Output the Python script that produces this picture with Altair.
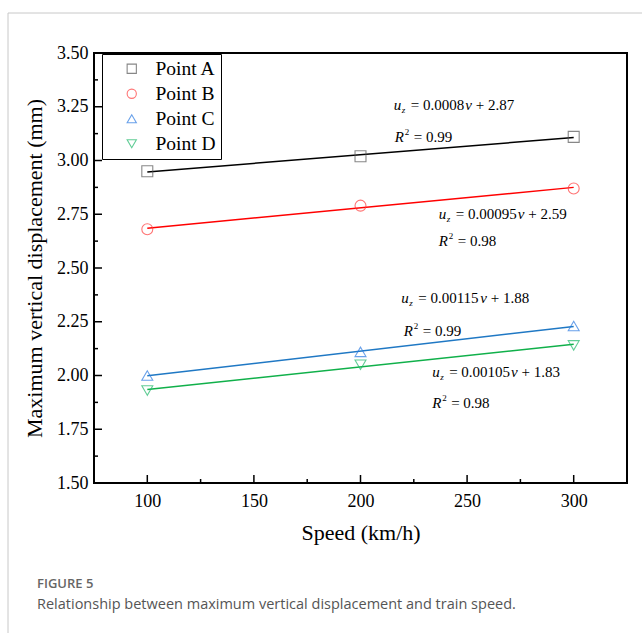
import altair as alt
import pandas as pd

# ---------------- data ----------------
series = ["Point A", "Point B", "Point C", "Point D"]
speed = [100, 200, 300]
disp_A = [2.95, 3.02, 3.11]
disp_B = [2.68, 2.79, 2.87]
disp_C = [2.00, 2.11, 2.23]
disp_D = [1.93, 2.05, 2.14]

marker_colors = ["#555555", "#ff3b3b", "#2a7ae2", "#1fb86a"]
line_colors = ["#000000", "#ff0000", "#1f78c4", "#10b04a"]
shapes = ["square", "circle", "triangle-up", "triangle-down"]

eq_coef = ["0.0008", "0.00095", "0.00115", "0.00105"]
eq_const = ["2.87", "2.59", "1.88", "1.83"]
eq_x = [215.6, 236.7, 219.1, 233.6]
eq_y = [3.258, 2.751, 2.360, 2.014]
r2_val = ["0.99", "0.98", "0.99", "0.98"]
r2_x = [216.1, 236.7, 220.3, 233.6]
r2_y = [3.109, 2.626, 2.209, 1.874]

x_major = [100, 150, 200, 250, 300]
x_minor = [125, 175, 225, 275]
y_major = [1.50, 1.75, 2.00, 2.25, 2.50, 2.75, 3.00, 3.25, 3.50]
y_minor = [1.625, 1.875, 2.125, 2.375, 2.625, 2.875, 3.125, 3.375]

caption_head = "FIGURE 5"
caption_text = "Relationship between maximum vertical displacement and train speed."

W, H = 533, 430
SERIF = "Liberation Serif"

rows = []
for s, vals in zip(series, [disp_A, disp_B, disp_C, disp_D]):
    for v, d in zip(speed, vals):
        rows.append({"series": s, "speed": v, "disp": d})
df = pd.DataFrame(rows)

xscale = alt.Scale(domain=[75, 325], nice=False, zero=False)
yscale = alt.Scale(domain=[1.5, 3.5], nice=False, zero=False)

X = alt.X("speed:Q", scale=xscale,
          axis=alt.Axis(values=x_major, format="d", title="Speed (km/h)"))
Y = alt.Y("disp:Q", scale=yscale,
          axis=alt.Axis(values=y_major, format=".2f",
                        title="Maximum vertical displacement (mm)"))

base = alt.Chart(df)

# fitted lines, one layer per series (fixed colour)
lines = []
for s, col in zip(series, line_colors):
    lines.append(
        base.transform_filter(alt.datum.series == s)
        .transform_regression("speed", "disp", extent=[100, 300])
        .mark_line(strokeWidth=1.5, color=col)
        .encode(x=X, y=Y)
    )

leg = alt.Legend(title=None, orient="none", legendX=8, legendY=1,
                 strokeColor="black", fillColor="white", padding=5,
                 rowPadding=4, symbolOffset=15, labelOffset=14,
                 labelFont=SERIF, labelFontSize=19.5, labelColor="black",
                 symbolSize=85, symbolStrokeWidth=1.1)

points = base.mark_point(filled=False, size=120, strokeWidth=1.1).encode(
    x=X, y=Y,
    color=alt.Color("series:N", scale=alt.Scale(domain=series, range=marker_colors),
                    legend=leg),
    shape=alt.Shape("series:N", scale=alt.Scale(domain=series, range=shapes),
                    legend=leg),
)

# inside ticks
def tick_layer(vals, axis, length):
    d = pd.DataFrame({"v": vals})
    if axis == "x":
        return alt.Chart(d).mark_rule(color="black", strokeWidth=1.5).encode(
            x=alt.X("v:Q", scale=xscale), y=alt.value(H), y2=alt.value(H - length))
    return alt.Chart(d).mark_rule(color="black", strokeWidth=1.5).encode(
        y=alt.Y("v:Q", scale=yscale), x=alt.value(0), x2=alt.value(length))

ticks = [tick_layer(x_major, "x", 8), tick_layer(x_minor, "x", 4),
         tick_layer(y_major, "y", 8), tick_layer(y_minor, "y", 4)]

# annotations
FS = 15
def width_num(s):
    return sum(3.75 if c == "." else 7.5 for c in s)

ann = []
for i in range(4):
    d = pd.DataFrame({"x": [eq_x[i]], "y": [eq_y[i]]})
    c = alt.Chart(d)
    enc = dict(x=alt.X("x:Q", scale=xscale), y=alt.Y("y:Q", scale=yscale))
    eq_w = 8.46 + 3.75 + width_num(eq_coef[i])
    vdx = 17 + eq_w + 1
    parts = [
        ("u", 0, 0, FS, "italic"),
        ("z", 8, 5, 9, "italic"),
        ("= " + eq_coef[i], 17, 0, FS, "normal"),
        ("v", vdx, 0, FS, "italic"),
        ("+ " + eq_const[i], vdx + 10.5, 0, FS, "normal"),
    ]
    for t, dx, dy, fs, st in parts:
        ann.append(c.mark_text(text=t, dx=dx, dy=dy, fontSize=fs, fontStyle=st,
                               font=SERIF, align="left", baseline="middle",
                               color="black").encode(**enc))
    d2 = pd.DataFrame({"x": [r2_x[i]], "y": [r2_y[i]]})
    c2 = alt.Chart(d2)
    enc2 = dict(x=alt.X("x:Q", scale=xscale), y=alt.Y("y:Q", scale=yscale))
    parts2 = [
        ("R", 0, 0, FS, "italic"),
        ("2", 10, -5, 9, "normal"),
        ("= " + r2_val[i], 19, 0, FS, "normal"),
    ]
    for t, dx, dy, fs, st in parts2:
        ann.append(c2.mark_text(text=t, dx=dx, dy=dy, fontSize=fs, fontStyle=st,
                                font=SERIF, align="left", baseline="middle",
                                color="black").encode(**enc2))

# figure frame (light gray) and caption
one = pd.DataFrame({"k": [0]})
frame_left = alt.Chart(one).mark_rule(color="#c8c8c8", strokeWidth=1).encode(
    x=alt.value(-86), y=alt.value(-40), y2=alt.value(580))
frame_top = alt.Chart(one).mark_rule(color="#c8c8c8", strokeWidth=1).encode(
    x=alt.value(-86), x2=alt.value(548), y=alt.value(-40))
cap1 = alt.Chart(one).mark_text(text=caption_head, font="Open Sans", fontSize=13,
                                fontWeight=600, color="#666666", align="left",
                                baseline="middle").encode(x=alt.value(-57), y=alt.value(531))
cap2 = alt.Chart(one).mark_text(text=caption_text, font="Open Sans", fontSize=14.5,
                                color="#555555", align="left",
                                baseline="middle").encode(x=alt.value(-57), y=alt.value(551.5))

chart = alt.layer(frame_left, frame_top, *lines, points, *ticks, *ann, cap1, cap2).properties(
    width=W, height=H,
    padding={"left": 7, "top": 12, "right": 0, "bottom": 0},
).configure_view(
    stroke="black", strokeWidth=2
).configure_axis(
    domain=False, grid=False, ticks=False,
    labelFont=SERIF, labelFontSize=18, labelColor="black",
    titleFont=SERIF, titleFontSize=22, titleFontWeight="normal", titleColor="black",
).configure_axisX(
    labelPadding=9, titlePadding=12,
).configure_axisY(
    labelPadding=6, titlePadding=10,
)

chart.save("out.html", embed_options={"renderer": "svg", "actions": False})
